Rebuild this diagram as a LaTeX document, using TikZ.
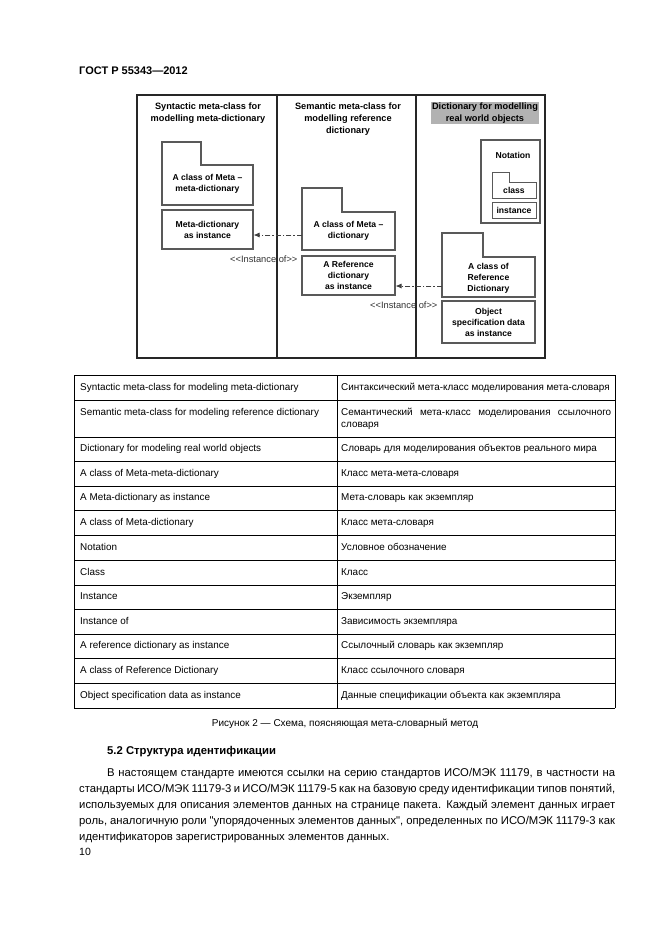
\documentclass[tikz,border=0pt]{standalone}
\usepackage{fontspec}
\setmainfont{Liberation Sans}[Ligatures=TeXOff]
\usetikzlibrary{arrows.meta}
\newcommand\myfs[2]{\fontsize{#1}{#2}\selectfont}
\begin{document}
\begin{tikzpicture}[x=1pt,y=-1pt,
  frame/.style={draw=black!85,line width=1.3pt},
  fold/.style={draw=black!65,line width=1.1pt},
  dbox/.style={draw=black!65,line width=1.1pt,align=center,inner sep=0pt,font=\myfs{8.6}{11}\bfseries},
  dtext/.style={align=center,inner sep=0pt,font=\myfs{8.6}{11}\bfseries},
  dtitle/.style={align=center,inner sep=0pt,font=\myfs{9.2}{11.8}\bfseries},
  lbl/.style={anchor=west,inner sep=0pt,font=\myfs{9.3}{10},text=black!80},
  instarrow/.style={draw=black!75,line width=0.8pt,dash pattern=on 5pt off 2pt on 1.5pt off 2pt,-{Latex[length=6pt,width=5pt]}},
  tline/.style={draw=black,line width=0.9pt},
  tcellm/.style={anchor=west,inner sep=0pt,font=\myfs{9.9}{12}},
  tcell/.style={tcellm,text height=7.4pt,text depth=2.2pt},
  body/.style={anchor=base west,inner sep=0pt,font=\myfs{11.3}{16}}
]
\useasboundingbox (0,0) rectangle (661,935);
\fill[white] (0,0) rectangle (661,935);

% header
\node[anchor=base west,inner sep=0pt,font=\myfs{11}{13}\bfseries] (hdr) at (79,74) {ГОСТ Р 55343—2012};

% diagram frame
\draw[frame] (137,95) rectangle (545,358);
\draw[frame] (277,95) -- (277,358);
\draw[draw=black!85,line width=2.4pt] (416,95) -- (416,358);

% titles
\node[dtitle] (t1) at (208,113) {Syntactic meta-class for\\modelling meta-dictionary};
\node[dtitle] (t2) at (348,119) {Semantic meta-class for\\modelling reference\\dictionary};
\node[dtitle,fill=black!30,inner sep=1pt] (t3) at (485,113) {Dictionary for modelling\\real world objects};

% column 1
\draw[fold] (162,142) -- (201,142) -- (201,165) -- (253,165) -- (253,205) -- (162,205) -- cycle;
\node[dtext,minimum width=91pt,minimum height=40pt] (cls1) at (207.5,184) {A class of Meta –\\meta-dictionary};
\node[dbox,minimum width=91pt,minimum height=39pt] (inst1) at (207.5,229.5) {Meta-dictionary\\as instance};

% column 2
\draw[fold] (302,188) -- (342,188) -- (342,212) -- (395,212) -- (395,250) -- (302,250) -- cycle;
\node[dtext,minimum width=93pt,minimum height=38pt] (cls2) at (348.5,231) {A class of Meta –\\dictionary};
\node[dbox,minimum width=93pt,minimum height=39pt] (inst2) at (348.5,275.5) {A Reference\\dictionary\\as instance};

% column 3
\node[dbox,minimum width=59pt,minimum height=83pt] (nota) at (510.5,181.5) {};
\node[dtext] (notat) at (513,155) {Notation};
\draw[fold,line width=0.9pt] (492,172) -- (509,172) -- (509,182) -- (536,182) -- (536,198) -- (492,198) -- cycle;
\node[dtext,minimum width=44pt,minimum height=16pt] (mcls) at (514,190) {class};
\node[dbox,line width=0.9pt,minimum width=44pt,minimum height=16pt] (minst) at (514,210) {instance};

\draw[fold] (442,233) -- (483,233) -- (483,257) -- (535,257) -- (535,297) -- (442,297) -- cycle;
\node[dtext,minimum width=93pt,minimum height=40pt] (cls3) at (488.5,278) {A class of\\Reference\\Dictionary};
\node[dbox,minimum width=93pt,minimum height=42pt] (obj) at (488.5,322) {Object\\specification data\\as instance};

% connectors
\coordinate (ya) at (0,235);
\coordinate (yb) at (0,286);
\draw[instarrow] (cls2.west |- ya) -- (inst1.east |- ya);
\draw[instarrow] (cls3.west |- yb) -- (inst2.east |- yb);
\node[lbl] (l1) at (230,259) {<<Instance of>>};
\node[lbl] (l2) at (370,305) {<<Instance of>>};

% table
\foreach \yy in {375,400,437,461,486,510,535,560,585,609,634,658,683,708}
  \draw[tline] (74,\yy) -- (615,\yy);
\draw[tline] (74,375) -- (74,708);
\draw[tline] (337,375) -- (337,708);
\draw[tline] (615,375) -- (615,708);

\node[tcell] (a1) at (80,387.5) {Syntactic meta-class for modeling meta-dictionary};
\node[tcell] (b1) at (341,387.5) {Синтаксический мета-класс моделирования мета-словаря};
\node[tcell] (a2) at (80,412.5) {Semantic meta-class for modeling reference dictionary};
\node[tcellm,align=left] (b2) at (341,418.5) {\makebox[270pt][s]{Семантический мета-класс моделирования ссылочного}\\словаря};
\node[tcell] (a3) at (80,449) {Dictionary for modeling real world objects};
\node[tcell] (b3) at (341,449) {Словарь для моделирования объектов реального мира};
\node[tcell] (a4) at (80,473.5) {A class of Meta-meta-dictionary};
\node[tcell] (b4) at (341,473.5) {Класс мета-мета-словаря};
\node[tcell] (a5) at (80,498) {A Meta-dictionary as instance};
\node[tcell] (b5) at (341,498) {Мета-словарь как экземпляр};
\node[tcell] (a6) at (80,522.5) {A class of Meta-dictionary};
\node[tcell] (b6) at (341,522.5) {Класс мета-словаря};
\node[tcell] (a7) at (80,547.5) {Notation};
\node[tcell] (b7) at (341,547.5) {Условное обозначение};
\node[tcell] (a8) at (80,572.5) {Class};
\node[tcell] (b8) at (341,572.5) {Класс};
\node[tcell] (a9) at (80,597) {Instance};
\node[tcell] (b9) at (341,597) {Экземпляр};
\node[tcell] (a10) at (80,621.5) {Instance of};
\node[tcell] (b10) at (341,621.5) {Зависимость экземпляра};
\node[tcell] (a11) at (80,646) {A reference dictionary as instance};
\node[tcell] (b11) at (341,646) {Ссылочный словарь как экземпляр};
\node[tcell] (a12) at (80,670.5) {A class of Reference Dictionary};
\node[tcell] (b12) at (341,670.5) {Класс ссылочного словаря};
\node[tcell] (a13) at (80,695.5) {Object specification data as instance};
\node[tcell] (b13) at (341,695.5) {Данные спецификации объекта как экземпляра};

% caption
\node[anchor=base,inner sep=0pt,font=\myfs{10}{12}] (cap) at (345,726.5) {Рисунок 2 — Схема, поясняющая мета-словарный метод};

% section heading
\node[anchor=base west,inner sep=0pt,font=\myfs{11.3}{14}\bfseries] (h52) at (107,754) {5.2 Структура идентификации};

% body text
\node[body] (p1) at (107,776) {\makebox[508pt][s]{В настоящем стандарте имеются ссылки на серию стандартов ИСО/МЭК 11179, в частности на}};
\node[body] (p2) at (79,792) {\makebox[536pt][s]{стандарты ИСО/МЭК 11179-3 и ИСО/МЭК 11179-5 как на базовую среду идентификации типов понятий,}};
\node[body] (p3) at (79,808) {\makebox[536pt][s]{используемых для описания элементов данных на странице пакета. Каждый элемент данных играет}};
\node[body] (p4) at (79,824) {\makebox[536pt][s]{роль, аналогичную роли "упорядоченных элементов данных", определенных по ИСО/МЭК 11179-3 как}};
\node[body] (p5) at (79,840) {идентификаторов зарегистрированных элементов данных.};

% page number
\node[anchor=base west,inner sep=0pt,font=\myfs{10.5}{12}] (pg) at (79,855) {10};
\end{tikzpicture}
\end{document}
